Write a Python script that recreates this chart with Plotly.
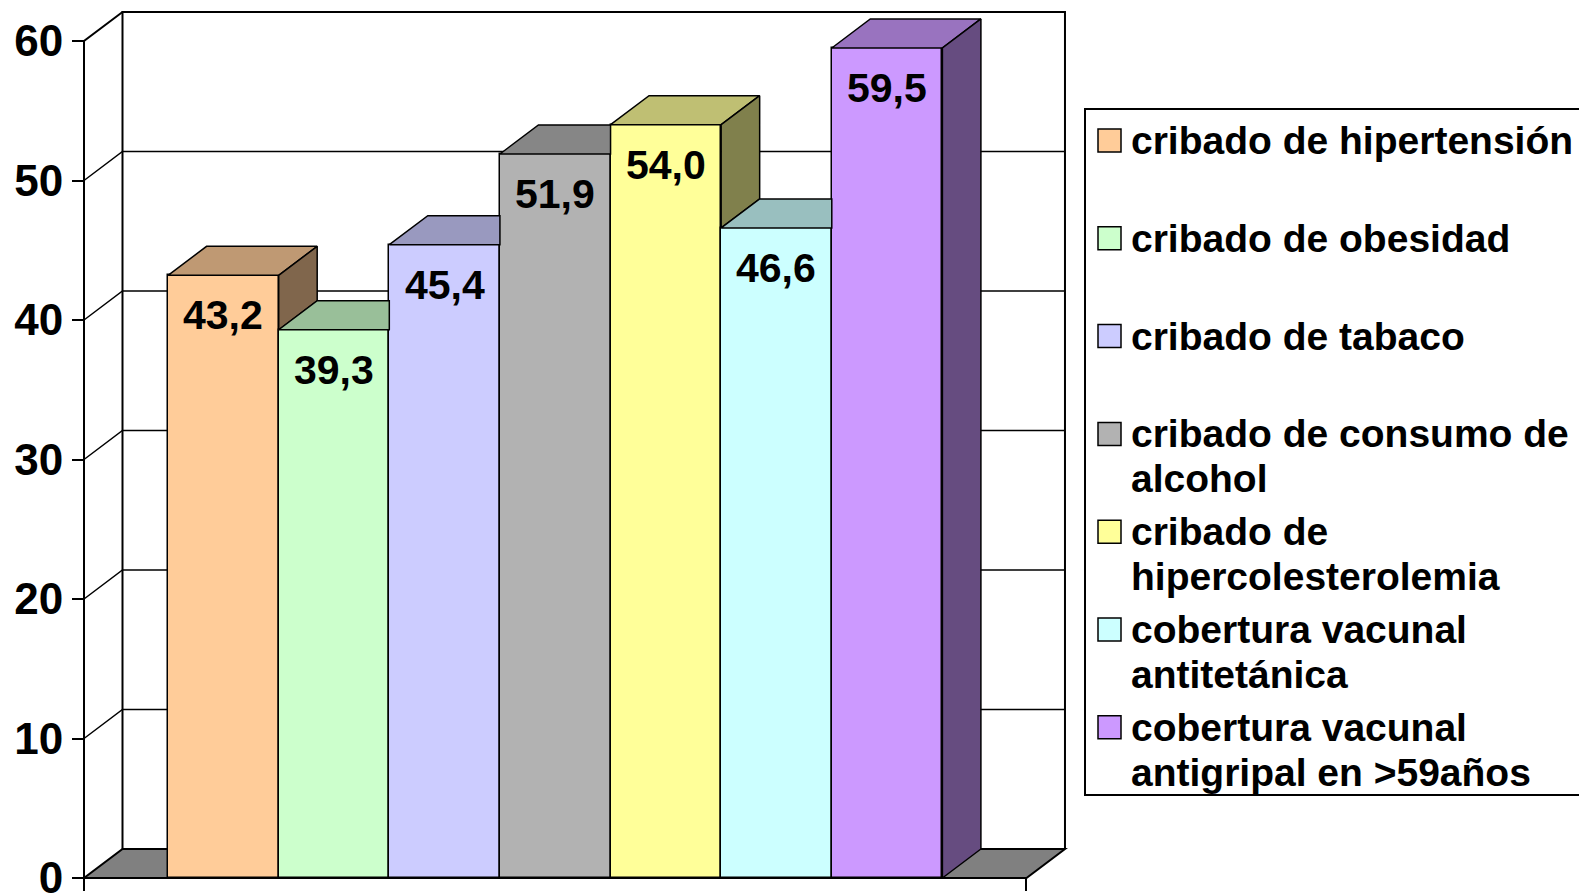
import plotly.graph_objects as go

# ---------------- data ----------------
categories = [
    "cribado de hipertensión",
    "cribado de obesidad",
    "cribado de tabaco",
    "cribado de consumo de alcohol",
    "cribado de hipercolesterolemia",
    "cobertura vacunal antitetánica",
    "cobertura vacunal antigripal en >59años",
]
legend_labels = [
    "cribado de hipertensión",
    "cribado de obesidad",
    "cribado de tabaco",
    "cribado de consumo de<br>alcohol",
    "cribado de<br>hipercolesterolemia",
    "cobertura vacunal<br>antitetánica",
    "cobertura vacunal<br>antigripal en >59años",
]
values = [43.2, 39.3, 45.4, 51.9, 54.0, 46.6, 59.5]
front_colors = ["#FFCC99", "#CCFFCC", "#CCCCFF", "#B2B2B2", "#FFFF99", "#CCFFFF", "#CC99FF"]
y_ticks = [0, 10, 20, 30, 40, 50, 60]

# ---------------- style / geometry ----------------
FONT = "Liberation Sans, Arial, sans-serif"
GAP = 0.76          # gap between axis edge and first/last bar (bar units)
DX, DY = 0.348, 2.08  # 3-D depth offset in data units
SX, SY = 110.62, 13.95  # px per unit
W_FIG, H_FIG = 1579, 895
PL, PR, PT, PB = 78, 1070, 8, 893   # plot-area pixel box
FRONT_LEFT_PX, ZERO_PX = 84, 878

n = len(values)
xs = list(range(n))
x_f0 = -0.5 - GAP
x_f1 = n - 0.5 + GAP
y_top = y_ticks[-1]

x_lo = x_f0 - (FRONT_LEFT_PX - PL) / SX
x_hi = x_lo + (PR - PL) / SX
y_lo = -(PB - ZERO_PX) / SY
y_hi = y_lo + (PB - PT) / SY


def shade(hexcol, f):
    h = hexcol.lstrip("#")
    r, g, b = (int(h[i:i + 2], 16) for i in (0, 2, 4))
    return "#%02X%02X%02X" % (round(r * f), round(g * f), round(b * f))


def px_x(p):
    return (p - PL) / (PR - PL)


def px_y(p):
    return (PB - p) / (PB - PT)


def path(pts, close=True):
    s = "M " + " L ".join(f"{x},{y}" for x, y in pts)
    return s + (" Z" if close else "")


fig = go.Figure()

# front faces of the bars
fig.add_trace(go.Bar(
    x=xs, y=values, width=1.0,
    marker=dict(color=front_colors, line=dict(color="black", width=1.5)),
    showlegend=False, hoverinfo="skip",
))

# top and side faces (3-D effect)
for i, v in enumerate(values):
    xl, xr = i - 0.5, i + 0.5
    nxt = values[i + 1] if i + 1 < n else 0.0
    # top face (clipped where the next, taller bar hides it)
    if nxt > v:
        top = [(xl, v), (xr, v), (xr, v + DY), (xl + DX, v + DY)]
    else:
        top = [(xl, v), (xr, v), (xr + DX, v + DY), (xl + DX, v + DY)]
    fig.add_trace(go.Scatter(
        x=[p[0] for p in top] + [top[0][0]], y=[p[1] for p in top] + [top[0][1]],
        mode="lines", fill="toself", fillcolor=shade(front_colors[i], 0.75),
        line=dict(color="black", width=1.5), showlegend=False, hoverinfo="skip",
    ))
    # visible part of the right side face
    if v > nxt:
        side = [(xr, nxt), (xr, v), (xr + DX, v + DY), (xr + DX, nxt + DY)]
        fig.add_trace(go.Scatter(
            x=[p[0] for p in side] + [side[0][0]], y=[p[1] for p in side] + [side[0][1]],
            mode="lines", fill="toself", fillcolor=shade(front_colors[i], 0.5),
            line=dict(color="black", width=1.5), showlegend=False, hoverinfo="skip",
        ))

shapes = []
# floor
shapes.append(dict(type="path", xref="x", yref="y", layer="below",
                   path=path([(x_f0, 0), (x_f1, 0), (x_f1 + DX, DY), (x_f0 + DX, DY)]),
                   fillcolor="#808080", line=dict(color="black", width=2)))
# grid lines on side and back walls
for t in y_ticks[1:-1]:
    shapes.append(dict(type="path", xref="x", yref="y", layer="below",
                       path=path([(x_f0, t), (x_f0 + DX, t + DY), (x_f1 + DX, t + DY)], close=False),
                       line=dict(color="black", width=1.5)))
# back wall outline
shapes.append(dict(type="path", xref="x", yref="y", layer="below",
                   path=path([(x_f0 + DX, DY), (x_f0 + DX, y_top + DY), (x_f1 + DX, y_top + DY),
                              (x_f1 + DX, DY)], close=False),
                   line=dict(color="black", width=2)))
# side wall: front axis line and top edge
shapes.append(dict(type="path", xref="x", yref="y", layer="below",
                   path=path([(x_f0, 0), (x_f0, y_top), (x_f0 + DX, y_top + DY)], close=False),
                   line=dict(color="black", width=2)))

# ---------------- legend (drawn by hand) ----------------
LEG_L, LEG_T, LEG_B = 1085, 109, 795
shapes.append(dict(type="rect", xref="paper", yref="paper",
                   x0=px_x(LEG_L), x1=px_x(W_FIG + 20), y0=px_y(LEG_B), y1=px_y(LEG_T),
                   line=dict(color="black", width=2), fillcolor="white", layer="above"))
annotations = []
ITEM0, ITEM_STEP, LINE_STEP, SW = 140.5, 97.8, 45, 23
for k, lab in enumerate(legend_labels):
    cy = ITEM0 + k * ITEM_STEP
    shapes.append(dict(type="rect", xref="paper", yref="paper",
                       x0=px_x(1098), x1=px_x(1098 + SW), y0=px_y(cy + SW / 2), y1=px_y(cy - SW / 2),
                       fillcolor=front_colors[k], line=dict(color="black", width=1.5), layer="above"))
    for j, line in enumerate(lab.split("<br>")):
        annotations.append(dict(xref="paper", yref="paper", x=px_x(1129), y=px_y(cy + j * LINE_STEP),
                                xanchor="left", yanchor="middle", text=line, showarrow=False,
                                font=dict(family=FONT, size=39, color="black", weight="bold")))

# data labels
for i, v in enumerate(values):
    annotations.append(dict(x=xs[i], y=v, xref="x", yref="y", yanchor="top", yshift=-15,
                            text=f"{v:.1f}".replace(".", ","), showarrow=False,
                            font=dict(family=FONT, size=41, color="black", weight="bold")))

fig.update_layout(
    width=W_FIG, height=H_FIG,
    margin=dict(l=PL, r=W_FIG - PR, t=PT, b=H_FIG - PB, autoexpand=False),
    paper_bgcolor="white", plot_bgcolor="white",
    shapes=shapes, annotations=annotations,
    bargap=0, showlegend=False,
    xaxis=dict(range=[x_lo, x_hi], anchor="free", position=(PB - ZERO_PX) / (PB - PT),
               showgrid=False, zeroline=False, showline=False,
               tickvals=[x_f0, x_f1], ticktext=["", ""], ticks="outside",
               ticklen=12, tickwidth=2, tickcolor="black"),
    yaxis=dict(range=[y_lo, y_hi], anchor="free", position=(FRONT_LEFT_PX - PL) / (PR - PL),
               showgrid=False, zeroline=False, showline=False,
               tickvals=y_ticks, ticks="outside", ticklen=12, tickwidth=2, tickcolor="black",
               ticklabelstandoff=0, ticklabeloverflow="allow",
               tickfont=dict(family=FONT, size=44, color="black", weight="bold")),
)

fig.write_html("out.html", config={"displayModeBar": False},
               post_script="document.body.style.margin='0px';")
